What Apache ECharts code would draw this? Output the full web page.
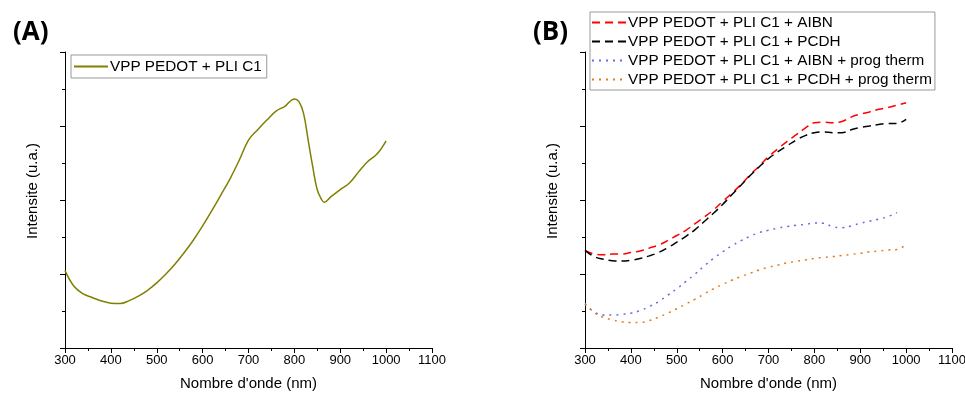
<!DOCTYPE html>
<html><head><meta charset="utf-8">
<script src="https://cdn.jsdelivr.net/npm/echarts@6/dist/echarts.min.js"></script>
<style>html,body{margin:0;padding:0;background:#fff}#c{width:965px;height:394px}</style>
</head><body><div id="c"></div>
<script>
const xTicks = [300,400,500,600,700,800,900,1000,1100];
const wlA = [300,320,340,360,380,400,420,440,460,480,500,520,540,560,580,600,620,640,660,680,700,720,740,760,780,790,800,810,820,830,840,850,860,865,880,900,920,940,960,980,1000];
const valA = [1.045,0.83,0.73,0.68,0.635,0.605,0.60,0.64,0.70,0.78,0.88,1.0,1.135,1.29,1.46,1.65,1.855,2.07,2.29,2.54,2.81,2.95,3.08,3.20,3.27,3.33,3.365,3.33,3.17,2.81,2.45,2.135,2.0,1.97,2.045,2.14,2.23,2.38,2.52,2.62,2.80];
const wlB = [300,320,340,360,380,400,420,440,460,480,500,520,540,560,580,600,620,640,660,680,700,720,740,760,780,800,820,840,860,880,900,920,940,960,980,1000];
const aibn = [1.32,1.27,1.26,1.27,1.27,1.29,1.31,1.35,1.39,1.45,1.52,1.59,1.68,1.77,1.865,1.98,2.09,2.21,2.34,2.46,2.585,2.69,2.79,2.88,2.97,3.045,3.05,3.045,3.06,3.12,3.16,3.19,3.225,3.25,3.28,3.315];
const pcdh = [1.32,1.235,1.20,1.18,1.175,1.185,1.21,1.245,1.29,1.355,1.43,1.51,1.60,1.71,1.82,1.94,2.07,2.20,2.33,2.45,2.56,2.65,2.73,2.81,2.87,2.91,2.92,2.91,2.91,2.95,2.98,3.0,3.02,3.035,3.035,3.09];
const aibnProg = [0.595,0.49,0.445,0.445,0.455,0.47,0.505,0.56,0.625,0.71,0.80,0.90,1.0,1.11,1.21,1.30,1.38,1.45,1.51,1.56,1.59,1.62,1.64,1.66,1.67,1.69,1.685,1.64,1.625,1.65,1.685,1.715,1.74,1.775,1.83,null];
const pcdhProg = [0.60,0.48,0.415,0.38,0.355,0.345,0.345,0.37,0.415,0.47,0.53,0.595,0.66,0.73,0.80,0.86,0.915,0.965,1.01,1.055,1.09,1.12,1.15,1.17,1.19,1.21,1.225,1.235,1.25,1.265,1.28,1.30,1.31,1.325,1.33,1.40];
const names = ['VPP PEDOT + PLI C1','VPP PEDOT + PLI C1 + AIBN','VPP PEDOT + PLI C1 + PCDH','VPP PEDOT + PLI C1 + AIBN + prog therm','VPP PEDOT + PLI C1 + PCDH + prog therm'];

const pair = (xs, ys) => xs.map((x,i)=>[x, ys[i]]).filter(p=>p[1]!==null);
const FONT = '"Liberation Sans", Arial, sans-serif';
function xAxis(idx){
  return {type:'value', gridIndex:idx, min:300, max:1100, interval:100,
    name:"Nombre d'onde (nm)", nameLocation:'middle', nameGap:28,
    nameTextStyle:{fontFamily:FONT, fontSize:15, color:'#000'},
    axisLine:{lineStyle:{color:'#000', width:1}},
    axisTick:{show:true, length:5, lineStyle:{color:'#000'}},
    minorTick:{show:true, splitNumber:2, length:3, lineStyle:{color:'#000'}},
    axisLabel:{fontFamily:FONT, fontSize:13, color:'#000', margin:6, showMaxLabel:true, formatter:v=>String(v)},
    splitLine:{show:false}};
}
function yAxis(idx){
  return {type:'value', gridIndex:idx, min:0, max:4, interval:1,
    name:'Intensite (u.a.)', nameLocation:'middle', nameGap:25, nameRotate:90,
    nameTextStyle:{fontFamily:FONT, fontSize:15, color:'#000', padding:[0,0,0,18]},
    axisLine:{show:true, lineStyle:{color:'#000', width:1}},
    axisTick:{show:true, length:5, lineStyle:{color:'#000'}},
    minorTick:{show:true, splitNumber:2, length:3, lineStyle:{color:'#000'}},
    axisLabel:{show:false}, splitLine:{show:false}};
}
const chart = echarts.init(document.getElementById('c'), null, {renderer:'canvas'});
chart.setOption({
  animation:false,
  title:[
    {text:'(A)', left:8, top:15, textStyle:{fontFamily:'"Open Sans", sans-serif', fontWeight:'bold', fontSize:26, color:'#000'}},
    {text:'(B)', left:528, top:15, textStyle:{fontFamily:'"Open Sans", sans-serif', fontWeight:'bold', fontSize:26, color:'#000'}}
  ],
  grid:[
    {left:65, top:52, width:367, height:296, outerBoundsMode:'none', containLabel:false},
    {left:585, top:52, width:367, height:296, outerBoundsMode:'none', containLabel:false}
  ],
  xAxis:[xAxis(0), xAxis(1)],
  yAxis:[yAxis(0), yAxis(1)],
  legend:[
    {data:[names[0]], left:71, top:55, orient:'vertical', itemWidth:34, itemHeight:12, itemGap:0,
     padding:[4,5,4,2], borderColor:'#999', borderWidth:1, itemStyle:{opacity:0},
     textStyle:{fontFamily:FONT, fontSize:15.3, color:'#000', padding:[0,0,0,-3]}},
    {data:names.slice(1), left:590, top:12, orient:'vertical', itemWidth:34, itemHeight:12, itemGap:4,
     padding:[3,3,3,1], borderColor:'#999', borderWidth:1, itemStyle:{opacity:0},
     textStyle:{fontFamily:FONT, fontSize:15.3, color:'#000', padding:[0,0,0,-3]}}
  ],
  series:[
    {name:names[0], type:'line', xAxisIndex:0, yAxisIndex:0, data:pair(wlA,valA), smooth:0.4, symbol:'none',
     lineStyle:{color:'#808000', width:1.5}, itemStyle:{color:'#808000'}},
    {name:names[1], type:'line', xAxisIndex:1, yAxisIndex:1, data:pair(wlB,aibn), smooth:0.4, symbol:'none',
     lineStyle:{color:'#ff0000', width:1.5, type:[8,5]}, itemStyle:{color:'#ff0000'}},
    {name:names[2], type:'line', xAxisIndex:1, yAxisIndex:1, data:pair(wlB,pcdh), smooth:0.4, symbol:'none',
     lineStyle:{color:'#000000', width:1.5, type:[8,5]}, itemStyle:{color:'#000000'}},
    {name:names[3], type:'line', xAxisIndex:1, yAxisIndex:1, data:pair(wlB,aibnProg), smooth:0.4, symbol:'none',
     lineStyle:{color:'#6a6ae0', width:1.5, type:[2,5]}, itemStyle:{color:'#6a6ae0'}},
    {name:names[4], type:'line', xAxisIndex:1, yAxisIndex:1, data:pair(wlB,pcdhProg), smooth:0.4, symbol:'none',
     lineStyle:{color:'#e07a1a', width:1.5, type:[2,5]}, itemStyle:{color:'#e07a1a'}}
  ]
});
</script></body></html>
